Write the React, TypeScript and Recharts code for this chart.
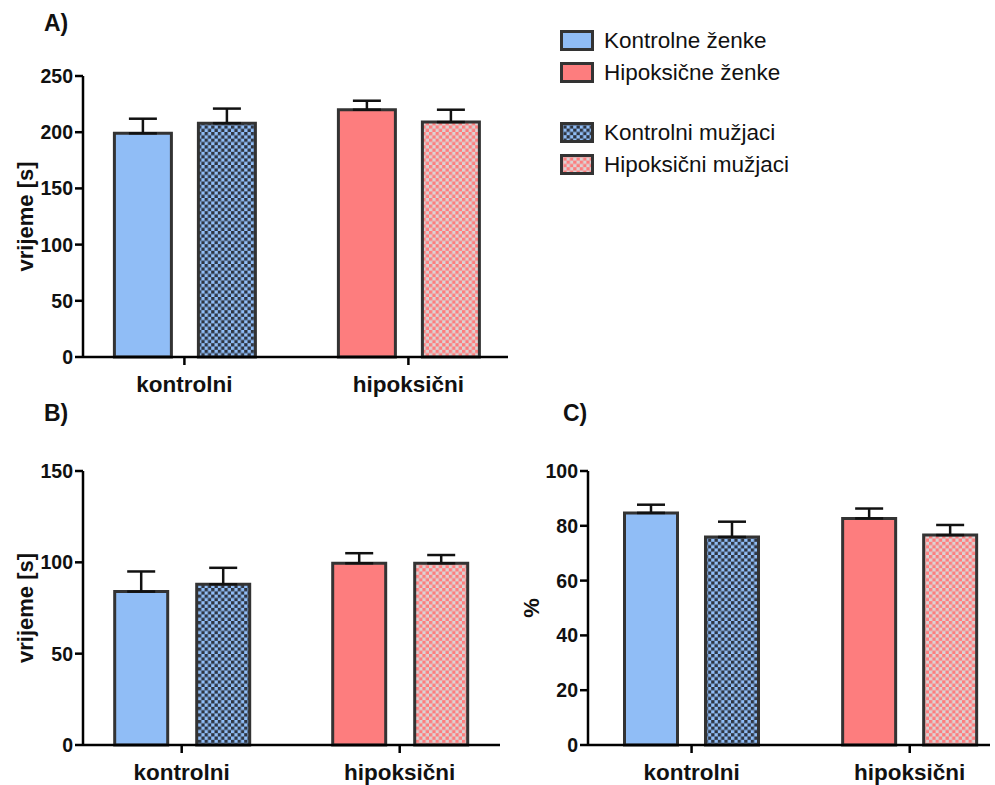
import { BarChart, Bar, XAxis, YAxis, ErrorBar, Cell } from "recharts";

const groups = ["kontrolni", "hipoksični"];
const seriesNames = ["Kontrolne ženke", "Hipoksične ženke", "Kontrolni mužjaci", "Hipoksični mužjaci"];

// A) vrijeme [s]
const aFemale = [199, 220];
const aFemaleSem = [13, 8];
const aMale = [208, 209];
const aMaleSem = [13, 11];
const aTicks = [0, 50, 100, 150, 200, 250];

// B) vrijeme [s]
const bFemale = [84, 99.5];
const bFemaleSem = [11, 5.5];
const bMale = [88, 99.5];
const bMaleSem = [9, 4.5];
const bTicks = [0, 50, 100, 150];

// C) %
const cFemale = [84.7, 82.7];
const cFemaleSem = [3, 3.6];
const cMale = [75.9, 76.6];
const cMaleSem = [5.6, 3.7];
const cTicks = [0, 20, 40, 60, 80, 100];

const BLUE = "#90bdf6";
const RED = "#fd7d7e";
const EDGE = "#333";
const FONT = "'Liberation Sans', Arial, sans-serif";

const rows = (female: number[], femaleSem: number[], male: number[], maleSem: number[]) =>
  groups.map((g, i) => ({
    group: g,
    female: female[i],
    femaleErr: [0, femaleSem[i]],
    male: male[i],
    maleErr: [0, maleSem[i]],
  }));

function Patterns({ id }: { id: string }) {
  return (
    <defs>
      <pattern id={`chkBlue${id}`} width="6.6" height="6.6" patternUnits="userSpaceOnUse">
        <rect width="6.6" height="6.6" fill={BLUE} />
        <rect width="3.3" height="3.3" fill="#2e3542" />
        <rect x="3.3" y="3.3" width="3.3" height="3.3" fill="#2e3542" />
      </pattern>
      <pattern id={`chkRed${id}`} width="6.6" height="6.6" patternUnits="userSpaceOnUse">
        <rect width="6.6" height="6.6" fill="#dcd3d3" />
        <rect width="3.3" height="3.3" fill={RED} />
        <rect x="3.3" y="3.3" width="3.3" height="3.3" fill={RED} />
      </pattern>
    </defs>
  );
}

type PanelProps = {
  id: string;
  data: any[];
  width: number;
  height: number;
  margin: { top: number; right: number; left: number; bottom: number };
  max: number;
  ticks: number[];
  yLabel: string;
  labelOffset: number;
  padL: number;
  padR: number;
  barSize: number;
  barGap: number;
  xHeight: number;
};

function Panel(p: PanelProps) {
  return (
    <BarChart width={p.width} height={p.height} data={p.data} margin={p.margin} barSize={p.barSize} barGap={p.barGap}>
      <Patterns id={p.id} />
      <XAxis
        dataKey="group"
        padding={{ left: p.padL, right: p.padR }}
        height={p.xHeight}
        axisLine={{ stroke: "#000", strokeWidth: 2.5 }}
        tickLine={{ stroke: "#000", strokeWidth: 2.5 }}
        tickSize={8}
        tickMargin={11}
        tick={{ fill: "#111", fontSize: 22.5, fontWeight: 700 }}
        interval={0}
      />
      <YAxis
        type="number"
        domain={[0, p.max]}
        ticks={p.ticks}
        width={60}
        axisLine={{ stroke: "#000", strokeWidth: 2.5 }}
        tickLine={{ stroke: "#000", strokeWidth: 2.5 }}
        tickSize={8}
        tickMargin={2}
        tick={{ fill: "#111", fontSize: 19.5, fontWeight: 700 }}
        label={{
          value: p.yLabel,
          angle: -90,
          position: "insideLeft",
          offset: p.labelOffset,
          style: { textAnchor: "middle", fill: "#111", fontSize: 22, fontWeight: 700 },
        }}
      />
      <Bar dataKey="female" stroke={EDGE} strokeWidth={3} isAnimationActive={false}>
        {p.data.map((_, i) => (
          <Cell key={i} fill={i === 0 ? BLUE : RED} />
        ))}
        <ErrorBar dataKey="femaleErr" direction="y" width={14} stroke="#111" strokeWidth={2.5} />
      </Bar>
      <Bar dataKey="male" stroke={EDGE} strokeWidth={3} isAnimationActive={false}>
        {p.data.map((_, i) => (
          <Cell key={i} fill={i === 0 ? `url(#chkBlue${p.id})` : `url(#chkRed${p.id})`} />
        ))}
        <ErrorBar dataKey="maleErr" direction="y" width={14} stroke="#111" strokeWidth={2.5} />
      </Bar>
    </BarChart>
  );
}

function Legend() {
  const fills = [BLUE, RED, "url(#chkBlueL)", "url(#chkRedL)"];
  const tops = [30, 62, 122, 154];
  return (
    <div style={{ position: "absolute", left: 0, top: 0 }}>
      <svg width="0" height="0" style={{ position: "absolute" }}>
        <Patterns id="L" />
      </svg>
      {seriesNames.map((name, i) => (
        <div key={name} style={{ position: "absolute", left: 560, top: tops[i], display: "flex", alignItems: "center", whiteSpace: "nowrap" }}>
          <svg width="34" height="21">
            <rect x="1.5" y="1.5" width="31" height="18" fill={fills[i]} stroke={EDGE} strokeWidth="3" />
          </svg>
          <span style={{ marginLeft: 10, fontSize: 22.5, color: "#111", lineHeight: "21px" }}>{name}</span>
        </div>
      ))}
    </div>
  );
}

const letter = (text: string, left: number, top: number) => (
  <div style={{ position: "absolute", left, top, fontSize: 23, fontWeight: 700, color: "#111", lineHeight: "23px" }}>{text}</div>
);

export default function App() {
  return (
    <div style={{ position: "absolute", left: 0, top: 0, width: 995, height: 785, background: "#fff", fontFamily: FONT }}>
      {letter("A)", 44, 12)}
      {letter("B)", 44, 402)}
      {letter("C)", 563, 402)}
      <Legend />
      <div style={{ position: "absolute", left: 0, top: 0 }}>
        <Panel
          id="A"
          data={rows(aFemale, aFemaleSem, aMale, aMaleSem)}
          width={520}
          height={400}
          margin={{ top: 76, right: 12, left: 23, bottom: 3 }}
          max={250}
          ticks={aTicks}
          yLabel="vrijeme [s]"
          labelOffset={2}
          padL={-10.6}
          padR={-12.4}
          barSize={57}
          barGap={27}
          xHeight={40}
        />
      </div>
      <div style={{ position: "absolute", left: 0, top: 390 }}>
        <Panel
          id="B"
          data={rows(bFemale, bFemaleSem, bMale, bMaleSem)}
          width={510}
          height={395}
          margin={{ top: 81, right: 10, left: 23, bottom: 3 }}
          max={150}
          ticks={bTicks}
          yLabel="vrijeme [s]"
          labelOffset={2}
          padL={-10.3}
          padR={-8.7}
          barSize={53}
          barGap={29}
          xHeight={37}
        />
      </div>
      <div style={{ position: "absolute", left: 500, top: 390 }}>
        <Panel
          id="C"
          data={rows(cFemale, cFemaleSem, cMale, cMaleSem)}
          width={495}
          height={395}
          margin={{ top: 81, right: 5, left: 28, bottom: 3 }}
          max={100}
          ticks={cTicks}
          yLabel="%"
          labelOffset={3}
          padL={-5.5}
          padR={-28.8}
          barSize={53}
          barGap={28}
          xHeight={37}
        />
      </div>
    </div>
  );
}
